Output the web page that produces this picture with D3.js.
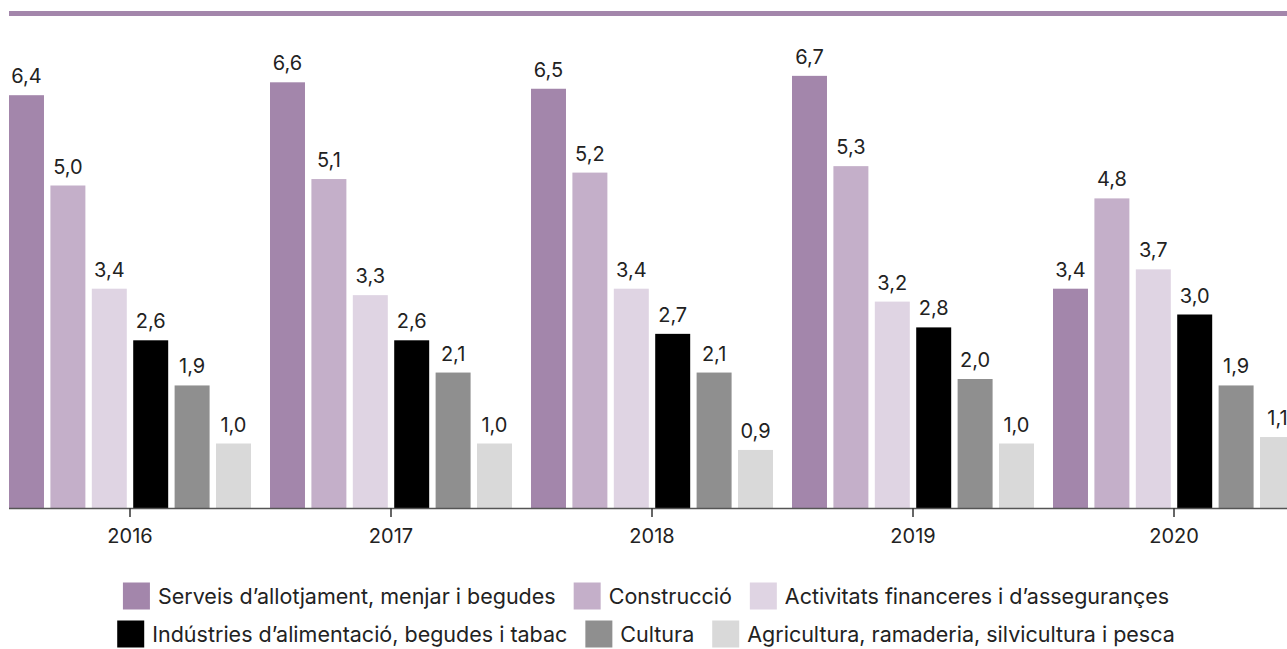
<!DOCTYPE html>
<html>
<head>
<meta charset="utf-8">
<script src="https://cdn.jsdelivr.net/npm/d3@7"></script>
<style>
  body { margin: 0; background: #fff; }
  text { font-family: Inter, "Noto Sans", sans-serif; font-weight: 400; fill: #222; }
</style>
</head>
<body>
<div id="plot"></div>
<script>
const years = ["2016", "2017", "2018", "2019", "2020"];
const sectors = [
  "Serveis d\u2019allotjament, menjar i begudes",
  "Construcci\u00f3",
  "Activitats financeres i d\u2019asseguran\u00e7es",
  "Ind\u00fastries d\u2019alimentaci\u00f3, begudes i tabac",
  "Cultura",
  "Agricultura, ramaderia, silvicultura i pesca"
];
const colors = ["#a386ab", "#c4afc9", "#dfd4e3", "#000000", "#8f8f8f", "#d9d9d9"];

// values per sector, one per year
const serveis     = [6.4, 6.6, 6.5, 6.7, 3.4];
const construccio = [5.0, 5.1, 5.2, 5.3, 4.8];
const financeres  = [3.4, 3.3, 3.4, 3.2, 3.7];
const industries  = [2.6, 2.6, 2.7, 2.8, 3.0];
const cultura     = [1.9, 2.1, 2.1, 2.0, 1.9];
const agricultura = [1.0, 1.0, 0.9, 1.0, 1.1];
const series = [serveis, construccio, financeres, industries, cultura, agricultura];

const W = 1287, H = 649;
const baseY = 508;

const svg = d3.select("#plot").append("svg")
  .attr("width", W)
  .attr("height", H);

// top rule
svg.append("rect")
  .attr("x", 9).attr("y", 11)
  .attr("width", W - 9).attr("height", 5)
  .attr("fill", "#a386ab");

const x0 = d3.scaleBand().domain(years).range([9, 1295]).paddingInner(0.0728).paddingOuter(0);
const x1 = d3.scaleBand().domain(d3.range(sectors.length)).range([0, x0.bandwidth()]).paddingInner(0.155).paddingOuter(0);
const y = d3.scaleLinear().domain([0, 7]).range([baseY, baseY - 7 * 64.5]);

const groups = svg.selectAll(".year")
  .data(years)
  .join("g")
  .attr("class", "year")
  .attr("transform", d => `translate(${x0(d)},0)`);

groups.each(function(year, yi) {
  const g = d3.select(this);
  const vals = series.map((s, si) => ({si, v: s[yi]}));
  g.selectAll("rect")
    .data(vals)
    .join("rect")
    .attr("x", d => x1(d.si))
    .attr("y", d => y(d.v))
    .attr("width", x1.bandwidth())
    .attr("height", d => baseY - y(d.v))
    .attr("fill", d => colors[d.si]);
  g.selectAll("text.lbl")
    .data(vals)
    .join("text")
    .attr("class", "lbl")
    .attr("x", d => x1(d.si) + x1.bandwidth() / 2)
    .attr("y", d => y(d.v) - 12)
    .attr("text-anchor", "middle")
    .style("font-size", "20px")
    .text(d => d.v.toFixed(1).replace(".", ","));
});

// x axis
const xAxis = svg.append("g")
  .attr("transform", `translate(0,${baseY})`)
  .call(d3.axisBottom(x0).tickSize(9).tickPadding(12));
xAxis.select(".domain").attr("d", `M9,0.5H${W}`).attr("stroke", "#555").attr("stroke-width", 1.5);
xAxis.selectAll(".tick line").attr("stroke", "#333").attr("stroke-width", 1.5);
xAxis.selectAll(".tick text")
  .style("font-size", "20px")
  .style("font-family", "Inter, 'Noto Sans', sans-serif")
  .style("font-weight", 400)
  .attr("fill", "#222");

// legend, two centred rows
const rows = [[0, 1, 2], [3, 4, 5]];
const rowY = [596, 634];
const sw = 27, gapText = 8, gapItem = 18, legendCenter = 646;

rows.forEach((row, ri) => {
  const lg = svg.append("g");
  let cx = 0;
  row.forEach(si => {
    const item = lg.append("g").attr("transform", `translate(${cx},0)`);
    item.append("rect")
      .attr("x", 0).attr("y", rowY[ri] - sw / 2)
      .attr("width", sw).attr("height", sw)
      .attr("fill", colors[si]);
    const t = item.append("text")
      .attr("x", sw + gapText)
      .attr("y", rowY[ri])
      .attr("dy", "0.35em")
      .style("font-size", "21.5px")
      .text(sectors[si]);
    cx += sw + gapText + t.node().getComputedTextLength() + gapItem;
  });
  const total = cx - gapItem;
  lg.attr("transform", `translate(${legendCenter - total / 2},0)`);
});
</script>
</body>
</html>
